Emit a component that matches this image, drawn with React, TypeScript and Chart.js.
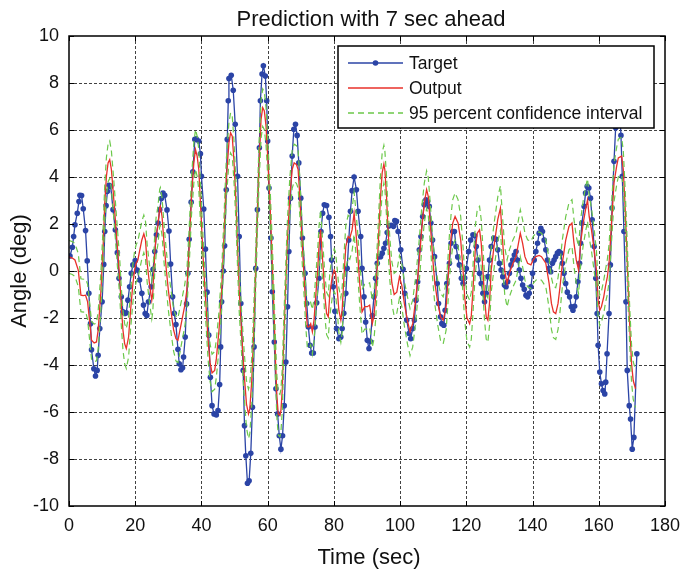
import React, { useEffect, useRef } from "react";
import { Chart, registerables } from "chart.js";

Chart.register(...registerables);

const chartTitle = "Prediction with 7 sec ahead";
const xAxisTitle = "Time (sec)";
const yAxisTitle = "Angle (deg)";
const xTickValues = [0, 20, 40, 60, 80, 100, 120, 140, 160, 180];
const yTickValues = [-10, -8, -6, -4, -2, 0, 2, 4, 6, 8, 10];
const legendLabels = ["Target", "Output", "95 percent confidence interval"];

// [time (s), angle (deg)]
const targetPoints: [number, number][] = [
  [0.3,0.64],[1.0,1.01],[1.4,1.47],[1.8,1.97],[2.5,2.46],[3.0,2.96],[3.3,3.22],[3.8,3.21],[4.3,2.65],[5.0,1.72],
  [5.5,0.43],[6.0,-0.95],[6.5,-2.24],[6.8,-3.35],[7.5,-4.16],[8.0,-4.47],[8.5,-4.23],[8.8,-3.59],[9.3,-2.45],[10.0,-1.31],
  [10.5,0.28],[10.8,1.68],[11.2,2.78],[11.6,3.39],[12.1,3.65],[12.6,3.6],[13.3,2.61],[14.0,1.75],[14.6,0.78],[15.1,-0.31],
  [15.8,-1.1],[16.3,-1.74],[16.8,-1.81],[17.3,-1.78],[17.8,-1.24],[18.3,-0.67],[18.8,-0.1],[19.3,0.26],[20.0,0.44],[20.6,0.04],
  [21.3,-0.38],[22.0,-0.95],[22.5,-1.45],[23.0,-1.81],[23.5,-1.89],[24.0,-1.31],[24.8,-0.67],[25.4,0.07],[25.9,0.83],[26.4,1.54],
  [26.9,2.04],[27.4,2.61],[27.9,3.08],[28.4,3.32],[28.9,3.22],[29.6,2.6],[30.2,1.7],[30.7,0.3],[31.3,-1.1],[31.8,-1.8],
  [32.3,-2.28],[32.9,-3.33],[33.3,-3.95],[33.8,-4.2],[34.3,-4.12],[34.6,-3.66],[35.1,-2.81],[35.5,-1.4],[35.9,-0.1],[36.3,1.35],
  [36.9,2.93],[37.4,4.22],[38.0,5.6],[38.4,5.63],[39.2,5.53],[39.7,4.99],[40.0,4.03],[40.7,2.64],[41.2,0.93],[41.7,-0.9],
  [42.2,-2.73],[42.7,-4.52],[43.2,-5.73],[43.8,-6.08],[44.5,-6.13],[45.0,-5.94],[45.5,-4.83],[45.8,-3.23],[46.1,-1.31],[46.6,0.0],
  [47.0,1.07],[47.5,3.46],[47.8,5.6],[48.1,7.24],[48.3,8.19],[49.0,8.33],[49.6,7.69],[50.2,6.24],[50.9,4.03],[51.4,1.47],
  [51.9,-1.38],[52.6,-4.23],[53.0,-6.58],[53.4,-7.86],[53.9,-9.03],[54.4,-8.93],[54.9,-7.76],[55.4,-5.8],[55.9,-3.23],[56.4,0.11],
  [56.9,2.61],[57.5,5.24],[57.8,7.24],[58.3,8.38],[58.7,8.73],[59.3,8.3],[59.7,7.24],[60.0,5.53],[60.4,3.53],[61.0,1.4],
  [61.4,-0.88],[62.0,-3.02],[62.5,-5.01],[63.0,-6.08],[63.5,-7.01],[64.0,-7.58],[64.5,-7.01],[65.0,-5.73],[65.5,-3.87],[66.0,-1.52],
  [66.4,0.83],[66.9,3.1],[67.4,4.89],[67.9,6.03],[68.4,6.24],[68.9,5.77],[69.4,4.6],[70.0,3.1],[70.5,1.4],[71.3,-0.1],
  [71.8,-1.38],[72.3,-2.38],[72.8,-3.16],[73.3,-3.49],[73.8,-3.49],[74.3,-2.38],[74.8,-1.35],[75.5,-0.31],[76.1,1.68],[76.6,2.46],
  [77.1,2.82],[77.8,2.79],[78.5,2.29],[79.0,1.47],[79.3,0.47],[79.8,-0.67],[80.3,-1.71],[80.8,-2.45],[81.5,-2.88],[82.1,-2.81],
  [82.5,-2.45],[83.0,-1.8],[83.6,-0.95],[84.0,0.11],[84.5,1.32],[85.0,2.54],[85.5,3.42],[86.1,4.0],[86.8,3.46],[87.3,2.54],
  [88.1,1.47],[88.5,0.11],[89.1,-1.1],[89.6,-2.17],[90.1,-2.95],[90.6,-3.3],[91.0,-3.0],[91.6,-1.9],[92.1,-1.1],[92.6,-0.31],
  [93.1,0.33],[93.6,0.61],[94.1,0.61],[94.6,0.76],[95.1,0.97],[95.6,1.18],[96.1,1.64],[96.6,1.92],[97.3,1.95],[98.0,1.9],
  [98.4,2.15],[98.9,2.11],[99.4,1.68],[100.2,0.9],[100.9,0.07],[101.4,-0.95],[102.0,-2.09],[102.7,-2.66],[103.2,-2.88],[103.8,-2.45],
  [104.3,-2.09],[104.8,-1.24],[105.3,-0.46],[105.8,0.9],[106.3,1.47],[106.8,2.32],[107.3,2.82],[107.8,3.03],[108.3,2.96],[108.8,2.75],
  [109.3,2.04],[109.8,1.32],[110.4,0.61],[111.2,-0.53],[111.6,-1.38],[112.2,-1.95],[112.6,-2.24],[113.2,-2.31],[113.6,-1.67],[114.1,-0.53],
  [114.9,0.33],[115.4,1.18],[115.9,1.68],[116.4,1.68],[116.9,1.04],[117.4,0.6],[117.9,0.26],[118.5,-0.31],[119.0,-0.53],[119.5,-0.3],
  [120.0,0.1],[120.7,0.83],[121.3,1.32],[122.0,1.54],[122.5,1.5],[123.0,1.04],[123.5,0.47],[124.0,-0.1],[124.5,-0.53],[125.0,-0.95],
  [125.5,-1.31],[126.0,-0.95],[126.5,-0.24],[127.0,0.47],[127.5,1.04],[128.3,1.4],[129.0,1.35],[129.5,0.9],[130.0,0.33],[130.5,0.04],
  [131.0,-0.24],[131.5,-0.6],[132.0,-0.67],[132.5,-0.46],[133.0,-0.1],[133.5,0.26],[134.0,0.47],[134.5,0.68],[135.0,0.83],[135.5,0.47],
  [136.0,0.04],[136.5,-0.31],[137.0,-0.6],[137.5,-0.78],[138.0,-1.03],[138.5,-1.1],[139.0,-0.95],[139.5,-0.67],[140.0,-0.1],[140.5,0.47],
  [141.0,0.83],[141.5,1.18],[142.0,1.61],[142.5,1.82],[143.0,1.68],[143.5,1.32],[144.0,0.9],[144.5,0.47],[145.0,0.11],[145.5,-0.03],
  [146.0,0.33],[146.5,0.47],[147.0,0.61],[147.5,0.76],[148.0,0.83],[148.5,0.76],[149.0,0.33],[149.5,-0.1],[150.0,-0.53],[150.5,-0.9],
  [151.2,-1.1],[151.7,-1.52],[152.2,-1.67],[152.7,-1.5],[153.2,-1.1],[153.7,-0.46],[154.2,0.33],[154.5,1.18],[154.9,2.04],[155.6,2.75],
  [156.0,3.32],[156.5,3.6],[157.0,3.53],[157.5,3.1],[158.0,2.18],[158.6,1.04],[159.1,-0.31],[159.5,-1.81],[159.8,-3.16],[160.3,-4.3],
  [160.8,-4.8],[161.3,-5.09],[161.8,-5.23],[162.1,-4.73],[162.5,-3.52],[163.1,-1.81],[163.5,0.26],[164.0,2.68],[164.6,4.67],[165.1,6.1],
  [165.6,7.4],[166.1,7.6],[166.7,5.77],[167.1,4.03],[167.6,1.68],[168.2,-1.31],[168.6,-4.23],[169.2,-5.73],[169.6,-6.3],[170.1,-7.58],
  [170.6,-7.08],[171.5,-3.52]
];

// [time (s), model output (deg), half-width of the 95% confidence band (deg)]
const outputPoints: [number, number, number][] = [
  [0,0.6,0.7],[1.0,0.55,0.7],[1.8,0.47,0.7],[2.8,0.04,0.7],[3.6,-1.03,0.7],[4.3,-1.05,0.7],[5.0,-1.03,0.7],[5.6,-1.3,0.75],
  [6.3,-2.24,0.8],[6.8,-2.95,0.8],[7.6,-3.06,0.8],[8.3,-3.02,0.8],[8.8,-2.52,0.8],[9.6,-0.95,0.8],[10.3,1.04,0.8],[10.8,2.89,0.8],
  [11.3,4.03,0.8],[11.8,4.6,0.8],[12.3,4.74,0.8],[12.8,4.32,0.8],[13.3,3.46,0.8],[14.0,2.18,0.8],[14.6,1.04,0.8],[15.3,-0.24,0.8],
  [15.8,-1.52,0.8],[16.3,-2.52,0.85],[16.8,-3.09,0.85],[17.3,-3.3,0.85],[18.0,-2.81,0.85],[18.6,-1.67,0.8],[19.3,-0.53,0.8],[19.8,0.04,0.8],
  [20.3,0.33,0.8],[20.8,0.47,0.8],[21.3,0.83,0.8],[22.0,1.32,0.8],[22.6,1.58,0.8],[23.1,1.32,0.8],[23.6,0.33,0.8],[24.3,-0.53,0.8],
  [25.0,-1.24,0.8],[25.3,-0.95,0.8],[25.9,0.75,0.8],[26.3,1.47,0.8],[26.8,1.89,0.8],[27.4,2.68,0.8],[27.6,2.75,0.8],[28.1,2.32,0.8],
  [28.7,1.18,0.8],[29.4,0.04,0.8],[30.0,-0.81,0.85],[30.9,-1.81,0.9],[31.6,-2.52,0.9],[32.3,-2.88,0.95],[32.9,-2.95,0.95],[33.6,-2.45,0.95],
  [34.3,-1.95,0.9],[34.9,-1.52,0.9],[35.6,-0.81,0.85],[36.3,1.04,0.8],[37.0,3.18,0.8],[37.7,4.6,0.85],[38.2,5.17,0.85],[38.7,4.89,0.85],
  [39.2,4.32,0.85],[39.7,2.89,0.8],[40.2,1.47,0.8],[40.7,0.04,0.8],[41.4,-1.52,0.8],[42.0,-2.95,0.8],[42.6,-3.9,0.8],[43.2,-4.34,0.8],
  [44.0,-4.23,0.8],[44.5,-3.73,0.8],[45.3,-2.52,0.8],[46.1,-0.81,0.8],[46.8,1.47,0.8],[47.5,3.89,0.85],[48.3,5.46,0.85],[48.8,5.88,0.85],
  [49.3,5.74,0.85],[49.8,4.74,0.85],[50.4,3.03,0.85],[50.9,1.04,0.85],[51.4,-0.81,0.9],[52.2,-2.81,0.9],[52.9,-4.37,0.95],[53.6,-5.66,1.0],
  [54.2,-6.08,1.05],[54.6,-5.87,1.05],[55.2,-4.66,1.0],[55.6,-3.23,0.95],[56.2,-0.81,0.9],[56.9,2.46,0.85],[57.4,4.6,0.85],[58.0,6.45,0.8],
  [58.5,6.95,0.8],[59.0,6.81,0.8],[59.5,6.17,0.8],[60.0,4.89,0.8],[60.7,2.89,0.8],[61.4,0.33,0.85],[62.0,-2.09,0.9],[62.4,-3.95,0.9],
  [62.8,-5.37,0.9],[63.2,-6.08,0.9],[63.7,-6.15,0.9],[64.0,-5.94,0.9],[64.4,-5.09,0.9],[64.8,-3.23,0.9],[65.4,-0.81,0.85],[66.0,1.47,0.8],
  [66.7,3.18,0.8],[67.4,4.32,0.8],[68.0,4.6,0.8],[68.7,4.53,0.8],[69.2,4.32,0.8],[69.7,3.18,0.8],[70.3,1.47,0.8],[71.0,-0.24,0.8],
  [71.5,-1.52,0.85],[72.0,-2.38,0.9],[72.5,-2.38,0.9],[73.0,-2.24,0.9],[73.5,-2.59,0.95],[74.0,-2.09,0.9],[74.5,-1.1,0.85],[75.1,0.04,0.85],
  [75.5,1.04,0.85],[76.0,1.75,0.85],[76.3,1.04,0.85],[76.8,0.04,0.85],[77.3,-1.1,0.9],[77.8,-1.81,0.9],[78.3,-1.95,0.9],[78.8,-0.95,0.9],
  [79.5,-0.24,0.9],[80.1,0.04,0.9],[80.5,-0.1,0.9],[81.1,-0.95,0.9],[81.5,-1.67,0.95],[82.1,-2.09,0.95],[82.5,-1.67,0.95],[83.1,-0.1,0.9],
  [83.6,1.04,0.9],[84.3,1.47,0.9],[84.8,1.4,0.9],[85.5,1.75,0.9],[86.1,2.46,0.9],[86.5,1.89,0.9],[87.1,0.9,0.9],[87.8,-0.53,0.9],
  [88.5,-1.74,0.95],[89.3,-1.52,0.95],[90.1,-1.52,0.95],[90.8,-1.45,0.95],[91.6,-2.24,1.0],[92.1,-1.9,1.0],[92.6,-1.1,1.0],[93.1,0.19,0.95],
  [93.6,1.75,0.9],[94.1,3.2,0.9],[94.6,4.2,0.85],[95.1,4.55,0.8],[95.4,4.3,0.8],[95.9,3.18,0.85],[96.3,1.89,0.9],[96.9,0.5,0.9],
  [97.5,-0.5,0.9],[98.2,-1.0,0.9],[99.0,-0.9,0.9],[99.8,-0.25,0.9],[100.5,-0.6,0.9],[101.3,-1.4,0.95],[102.2,-2.09,1.0],[103.0,-2.6,1.0],
  [103.8,-2.24,1.0],[104.8,-1.1,0.95],[105.8,0.47,0.9],[106.5,1.75,0.9],[107.3,2.89,0.85],[108.0,3.46,0.8],[108.5,3.18,0.8],[109.1,2.04,0.85],
  [109.8,0.61,0.9],[110.5,-0.53,0.9],[111.4,-1.38,0.95],[112.2,-1.95,1.0],[113.0,-2.1,1.0],[113.9,-1.52,1.0],[114.4,-0.53,0.95],[114.9,0.61,0.95],
  [115.4,1.47,0.95],[115.9,2.04,1.0],[116.6,2.32,1.0],[117.5,2.04,1.0],[118.3,1.32,1.0],[119.0,0.04,1.0],[119.5,-1.1,1.0],[120.2,-2.0,1.0],
  [121.0,-2.24,1.0],[121.5,-1.9,1.0],[122.0,-0.81,1.0],[122.7,0.9,1.0],[123.3,1.61,1.0],[124.0,1.75,1.0],[124.5,1.18,1.0],[125.0,0.04,1.0],
  [125.5,-1.1,1.0],[126.0,-1.95,0.95],[126.5,-2.09,0.95],[127.0,-1.38,0.95],[127.5,0.04,0.95],[128.5,1.2,0.95],[129.5,2.2,0.95],[130.3,2.68,0.95],
  [131.0,1.18,1.0],[131.6,0.0,1.0],[132.3,-0.53,1.0],[133.0,-0.1,1.0],[134.0,0.3,1.0],[135.0,0.6,1.0],[136.3,1.61,1.0],[137.0,1.18,1.0],
  [137.7,0.61,1.0],[138.5,0.33,1.0],[139.5,0.26,1.0],[140.2,0.47,1.0],[141.0,0.61,1.0],[142.0,0.66,1.0],[142.7,0.61,1.0],[144.0,0.33,1.0],
  [145.0,-0.53,1.05],[145.7,-1.38,1.1],[146.3,-1.74,1.1],[147.0,-1.81,1.1],[147.7,-1.38,1.1],[148.3,-0.67,1.05],[149.0,0.33,1.0],[150.0,1.3,1.0],
  [151.0,1.9,1.0],[151.9,2.04,1.0],[152.5,1.2,1.0],[153.2,0.47,1.0],[153.9,0.04,1.0],[154.5,1.18,1.0],[155.3,2.04,0.95],[156.0,2.61,0.95],
  [156.6,3.03,0.9],[157.1,2.32,0.9],[157.8,1.75,0.9],[158.6,0.9,0.9],[159.3,0.04,0.8],[159.8,-1.24,0.7],[160.3,-1.67,0.65],[160.8,-1.52,0.65],
  [161.5,-1.1,0.7],[162.0,-0.67,0.7],[162.6,-0.24,0.75],[163.1,0.33,0.8],[163.6,1.47,0.8],[164.1,2.61,0.8],[164.6,3.75,0.8],[165.4,4.46,0.8],
  [165.9,4.81,0.8],[166.9,4.89,0.8],[167.4,4.32,0.8],[167.9,2.89,0.8],[168.4,1.18,0.8],[168.9,-0.81,0.8],[169.4,-2.52,0.8],[169.9,-3.95,0.8],
  [170.4,-4.66,0.8],[171.1,-5.01,0.8]
];

const FONT = "'Liberation Sans', Arial, Helvetica, sans-serif";
const BLUE = "#2b44a6";
const RED = "#e8302a";
const GREEN = "#6cc84a";

const matlabPlugin = {
  id: "matlabDecor",
  beforeDatasetsDraw(chart: any) {
    const { ctx, chartArea, scales } = chart;
    const { left, right, top, bottom } = chartArea;
    ctx.save();
    ctx.strokeStyle = "#111";
    ctx.lineWidth = 0.8;
    ctx.setLineDash([3, 2]);
    xTickValues.forEach((v) => {
      const px = Math.round(scales.x.getPixelForValue(v)) + 0.5;
      if (px <= left + 1 || px >= right - 1) return;
      ctx.beginPath();
      ctx.moveTo(px, top);
      ctx.lineTo(px, bottom);
      ctx.stroke();
    });
    yTickValues.forEach((v) => {
      const py = Math.round(scales.y.getPixelForValue(v)) + 0.5;
      if (py <= top + 1 || py >= bottom - 1) return;
      ctx.beginPath();
      ctx.moveTo(left, py);
      ctx.lineTo(right, py);
      ctx.stroke();
    });
    ctx.restore();
  },
  afterDatasetsDraw(chart: any) {
    const { ctx, chartArea, scales } = chart;
    const { left, right, top, bottom } = chartArea;
    ctx.save();
    ctx.setLineDash([]);
    ctx.strokeStyle = "#000";
    ctx.lineWidth = 1;
    const tl = 5;
    xTickValues.forEach((v) => {
      const px = Math.round(scales.x.getPixelForValue(v)) + 0.5;
      ctx.beginPath();
      ctx.moveTo(px, bottom); ctx.lineTo(px, bottom - tl);
      ctx.moveTo(px, top); ctx.lineTo(px, top + tl);
      ctx.stroke();
    });
    yTickValues.forEach((v) => {
      const py = Math.round(scales.y.getPixelForValue(v)) + 0.5;
      ctx.beginPath();
      ctx.moveTo(left, py); ctx.lineTo(left + tl, py);
      ctx.moveTo(right, py); ctx.lineTo(right - tl, py);
      ctx.stroke();
    });
    ctx.lineWidth = 1.5;
    ctx.strokeRect(left, top, right - left, bottom - top);

    // legend box
    const bw = 316, bh = 82;
    const bx = right - 11 - bw;
    const by = top + 10;
    ctx.fillStyle = "#fff";
    ctx.fillRect(bx, by, bw, bh);
    ctx.lineWidth = 1.5;
    ctx.strokeStyle = "#000";
    ctx.strokeRect(bx, by, bw, bh);
    const rows = [by + 17, by + 42, by + 67];
    const x1 = bx + 10, x2 = bx + 65;
    ctx.strokeStyle = BLUE; ctx.lineWidth = 1.3;
    ctx.beginPath(); ctx.moveTo(x1, rows[0]); ctx.lineTo(x2, rows[0]); ctx.stroke();
    ctx.fillStyle = BLUE;
    ctx.beginPath(); ctx.arc((x1 + x2) / 2, rows[0], 2.8, 0, Math.PI * 2); ctx.fill();
    ctx.strokeStyle = RED; ctx.lineWidth = 1.3;
    ctx.beginPath(); ctx.moveTo(x1, rows[1]); ctx.lineTo(x2, rows[1]); ctx.stroke();
    ctx.strokeStyle = GREEN; ctx.lineWidth = 1.3; ctx.setLineDash([6, 4]);
    ctx.beginPath(); ctx.moveTo(x1, rows[2]); ctx.lineTo(x2, rows[2]); ctx.stroke();
    ctx.setLineDash([]);
    ctx.fillStyle = "#111";
    ctx.font = `17.5px ${FONT}`;
    ctx.textAlign = "left";
    ctx.textBaseline = "middle";
    legendLabels.forEach((t, i) => ctx.fillText(t, bx + 71, rows[i] + 1));

    const cx = (left + right) / 2;
    ctx.font = `22px ${FONT}`;
    ctx.textAlign = "center";
    ctx.textBaseline = "alphabetic";
    ctx.fillText(chartTitle, cx + 4, 26);
    ctx.fillText(xAxisTitle, cx + 2, 564);
    ctx.save();
    ctx.translate(26, (top + bottom) / 2);
    ctx.rotate(-Math.PI / 2);
    ctx.fillText(yAxisTitle, 0, 0);
    ctx.restore();
    ctx.restore();
  },
};

export default function App() {
  const canvasRef = useRef<HTMLCanvasElement | null>(null);

  useEffect(() => {
    if (!canvasRef.current) return;
    const target = targetPoints.map(([x, y]) => ({ x, y }));
    const output = outputPoints.map(([x, y]) => ({ x, y }));
    const upper = outputPoints.map(([x, y, h]) => ({ x, y: y + h }));
    const lower = outputPoints.map(([x, y, h]) => ({ x, y: y - h }));

    const chart = new Chart(canvasRef.current, {
      type: "line",
      data: {
        datasets: [
          {
            label: legendLabels[0],
            data: target,
            borderColor: BLUE,
            backgroundColor: BLUE,
            borderWidth: 1.3,
            pointRadius: 2.8,
            pointBorderWidth: 0,
            pointBackgroundColor: BLUE,
            tension: 0,
            order: 3,
          },
          {
            label: legendLabels[1],
            data: output,
            borderColor: RED,
            borderWidth: 1.3,
            pointRadius: 0,
            tension: 0,
            order: 2,
          },
          {
            label: legendLabels[2],
            data: upper,
            borderColor: GREEN,
            borderWidth: 1.2,
            borderDash: [6, 4],
            pointRadius: 0,
            tension: 0,
            order: 1,
          },
          {
            label: legendLabels[2] + " (lower)",
            data: lower,
            borderColor: GREEN,
            borderWidth: 1.2,
            borderDash: [6, 4],
            pointRadius: 0,
            tension: 0,
            order: 1,
          },
        ],
      },
      options: {
        animation: false,
        responsive: false,
        devicePixelRatio: 1,
        layout: { padding: { top: 36, right: 20, left: 0, bottom: 0 } },
        plugins: {
          legend: { display: false },
          title: { display: false },
          tooltip: { enabled: false },
        },
        scales: {
          x: {
            type: "linear",
            min: 0,
            max: 180,
            grid: { display: false, drawTicks: false },
            border: { display: false },
            ticks: {
              stepSize: 20,
              padding: 9,
              color: "#111",
              font: { family: FONT, size: 18 },
              maxRotation: 0,
            },
            afterFit: (s: any) => { s.height = 63; s.paddingLeft = 0; s.paddingRight = 0; },
          },
          y: {
            type: "linear",
            min: -10,
            max: 10,
            grid: { display: false, drawTicks: false },
            border: { display: false },
            ticks: {
              stepSize: 2,
              padding: 10,
              color: "#111",
              font: { family: FONT, size: 18 },
            },
            afterFit: (s: any) => { s.width = 69; s.paddingTop = 0; s.paddingBottom = 0; },
          },
        },
      },
      plugins: [matlabPlugin],
    });
    return () => chart.destroy();
  }, []);

  return (
    <div style={{ position: "fixed", left: 0, top: 0, width: 685, height: 569, background: "#fff" }}>
      <canvas ref={canvasRef} width={685} height={569} style={{ display: "block" }} />
    </div>
  );
}
